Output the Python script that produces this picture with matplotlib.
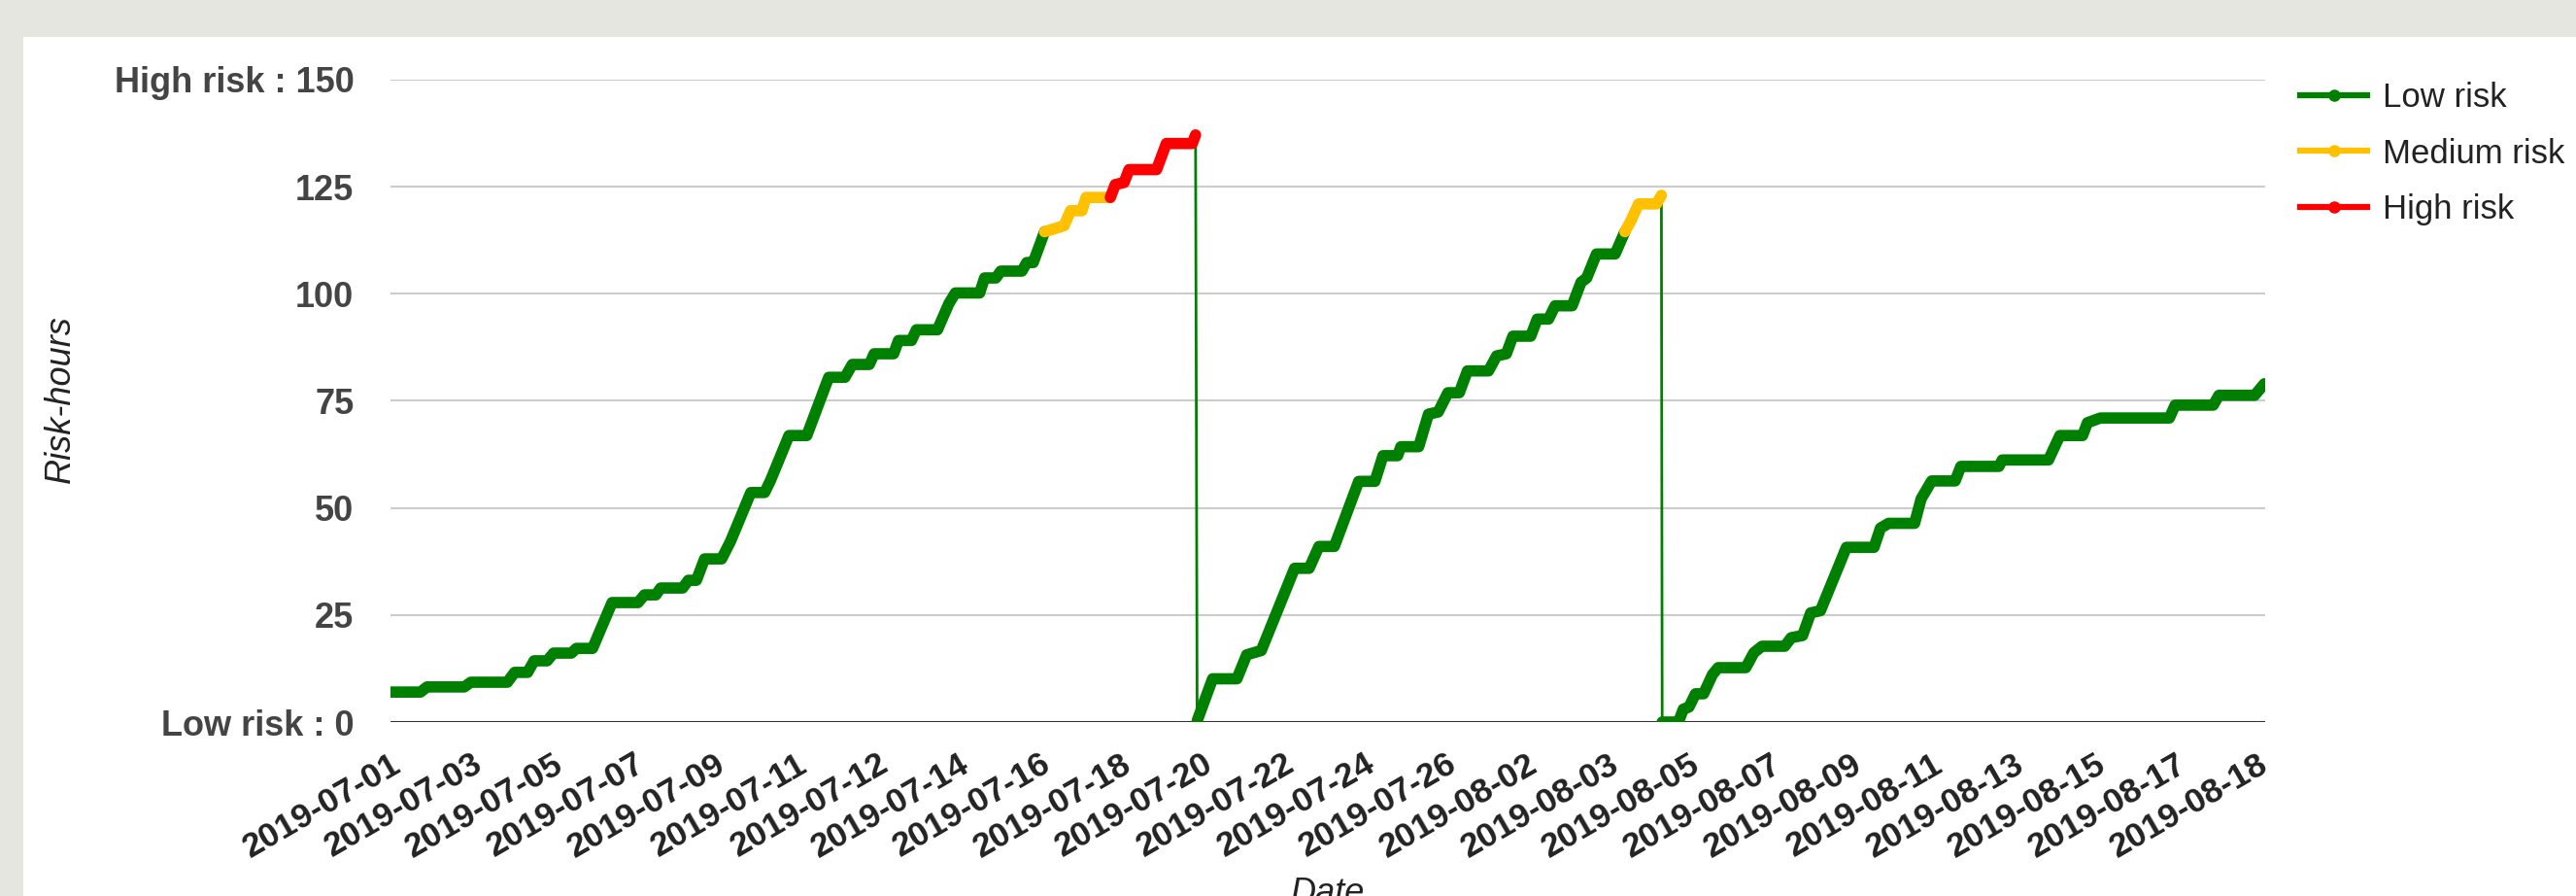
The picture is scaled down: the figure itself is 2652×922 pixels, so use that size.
import numpy as np
import matplotlib
matplotlib.use("Agg")
import matplotlib.pyplot as plt
from matplotlib.lines import Line2D
from matplotlib.patches import Rectangle

# position along the date axis (in label steps) and accumulated risk-hours
t = [0.00, 0.37, 0.45, 0.91, 0.99, 1.44, 1.53, 1.69, 1.77, 1.93, 2.01, 2.23, 2.29, 2.49,
     2.73, 3.05, 3.13, 3.27, 3.33, 3.60, 3.67, 3.77, 3.87, 4.08, 4.19, 4.44, 4.61, 4.68,
     4.91, 5.13, 5.40, 5.60, 5.69, 5.90, 5.96, 6.20, 6.26, 6.42, 6.48, 6.74, 6.88, 6.96,
     7.26, 7.32, 7.46, 7.52, 7.78, 7.84, 7.92, 8.06, 8.30, 8.38, 8.52, 8.57, 8.87, 8.93,
     9.04, 9.10, 9.44, 9.56, 9.88, 9.92,
     9.94, 10.13, 10.43, 10.55, 10.73, 11.14, 11.32, 11.44, 11.63, 11.93, 12.13, 12.23,
     12.41, 12.45, 12.67, 12.79, 12.91, 13.03, 13.17, 13.27, 13.53, 13.63, 13.75, 13.83,
     14.05, 14.13, 14.27, 14.35, 14.56, 14.67, 14.74, 14.86, 15.09, 15.21, 15.28, 15.38,
     15.60, 15.66,
     15.67, 15.87, 15.93, 16.00, 16.08, 16.18, 16.29, 16.36, 16.70, 16.80, 16.90, 17.18,
     17.26, 17.40, 17.50, 17.62, 17.94, 18.28, 18.36, 18.46, 18.78, 18.86, 18.99, 19.28,
     19.35, 19.82, 19.86, 20.43, 20.57, 20.85, 20.91, 21.07, 21.92, 21.99, 22.46, 22.53,
     22.97, 23.09]
risk_hours = [7.0, 7.0, 8.2, 8.2, 9.3, 9.3, 11.6, 11.6, 14.3, 14.3, 16.1, 16.1, 17.2, 17.2,
              27.9, 27.9, 29.7, 29.7, 31.3, 31.3, 33.1, 33.1, 38.1, 38.1, 42.2, 53.6, 53.6, 56.3,
              66.9, 66.9, 80.5, 80.5, 83.5, 83.5, 86.0, 86.0, 89.1, 89.1, 91.6, 91.6, 97.7, 100.2,
              100.2, 103.7, 103.7, 105.3, 105.3, 107.3, 107.3, 114.5, 115.9, 119.4, 119.4, 122.5, 122.5, 125.5,
              126.0, 129.0, 129.0, 135.1, 135.1, 137.1,
              0.3, 10.1, 10.1, 15.7, 16.7, 35.9, 35.9, 41.0, 41.0, 56.2, 56.2, 62.2,
              62.2, 64.3, 64.3, 71.9, 72.4, 76.9, 76.9, 82.0, 82.0, 85.5, 86.0, 90.1,
              90.1, 94.1, 94.1, 97.2, 97.2, 102.7, 103.7, 109.3, 109.3, 114.5, 116.9, 121.0,
              121.0, 123.0,
              0.0, 0.0, 3.0, 3.5, 6.6, 6.6, 11.1, 12.7, 12.7, 16.2, 17.7, 17.7,
              19.7, 20.2, 25.5, 26.0, 40.8, 40.8, 45.3, 46.4, 46.4, 52.1, 56.3, 56.3,
              59.7, 59.7, 61.2, 61.2, 66.9, 66.9, 69.9, 71.0, 71.0, 74.0, 74.0, 76.3,
              76.3, 79.0]

date_labels = ["2019-07-01", "2019-07-03", "2019-07-05", "2019-07-07", "2019-07-09",
               "2019-07-11", "2019-07-12", "2019-07-14", "2019-07-16", "2019-07-18",
               "2019-07-20", "2019-07-22", "2019-07-24", "2019-07-26", "2019-08-02",
               "2019-08-03", "2019-08-05", "2019-08-07", "2019-08-09", "2019-08-11",
               "2019-08-13", "2019-08-15", "2019-08-17", "2019-08-18"]
y_ticks = [0, 25, 50, 75, 100, 125, 150]
y_tick_labels = ["Low risk : 0", "25", "50", "75", "100", "125", "High risk : 150"]

series_names = ["Low risk", "Medium risk", "High risk"]
series_colors = ["#008000", "#ffc000", "#ff0000"]
MEDIUM_FROM, HIGH_FROM = 115, 124

plt.rcParams["font.family"] = ["Liberation Sans", "DejaVu Sans"]

W, H = 2652, 922
fig = plt.figure(figsize=(W / 100, H / 100), dpi=100, facecolor="#e5e6df")
fig.patches.append(Rectangle((24 / W, 0), 1, 1 - 38 / H, transform=fig.transFigure,
                             facecolor="white", edgecolor="none", zorder=-10))

ax = fig.add_axes([402 / W, 1 - 743 / H, (2332 - 402) / W, (743 - 82) / H])
ax.set_facecolor("none")

# split the trace into runs by risk level; resets are drawn as thin lines
runs = []
for i in range(len(t) - 1):
    a, b = risk_hours[i], risk_hours[i + 1]
    if b < a - 50:
        ax.plot([t[i], t[i + 1]], [a, b], color=series_colors[0], lw=2.0, zorder=2)
        runs.append(None)
        continue
    hi = max(a, b)
    level = 2 if hi > HIGH_FROM else (1 if hi > MEDIUM_FROM else 0)
    if runs and runs[-1] is not None and runs[-1][0] == level:
        runs[-1][1].append(i + 1)
    else:
        runs.append([level, [i, i + 1]])

for run in runs:
    if run is None:
        continue
    level, idx = run
    ax.plot([t[k] for k in idx], [risk_hours[k] for k in idx], color=series_colors[level],
            lw=8.4, solid_capstyle="round", solid_joinstyle="round", zorder=3 + level)

ax.set_xlim(0, 23.1)
ax.set_ylim(0, 150)
ax.set_yticks(y_ticks)
ax.set_yticklabels(y_tick_labels, fontsize=26, fontweight="bold", color="#444444")
ax.set_xticks(range(len(date_labels)))
ax.set_xticklabels(date_labels, fontsize=25.5, fontweight="bold", color="#222222",
                   rotation=30, ha="right", rotation_mode="anchor")
ax.tick_params(axis="y", length=0, pad=27)
ax.tick_params(axis="x", length=0, pad=19)
for s in ax.spines.values():
    s.set_visible(False)
ax.yaxis.grid(True, color="#cccccc", lw=1.5)
ax.set_axisbelow(True)
ax.axhline(0, color="#333333", lw=2.2, zorder=1.5)

fig.text(62 / W, 1 - 411 / H, "Risk-hours", rotation=90, style="italic", fontsize=26,
         color="#222222", ha="center", va="center")
fig.text(1367 / W, 1 - 902 / H, "Date", style="italic", fontsize=26, color="#222222",
         ha="center", va="top")

handles = [Line2D([0, 1, 2], [0, 0, 0], color=c, lw=4.5, marker="o", markersize=8,
                  markevery=[1]) for c in series_colors]
leg = fig.legend(handles, series_names, loc="upper left", bbox_to_anchor=(2368 / W, 1 - 84 / H),
                 frameon=False, fontsize=25, handlelength=2.0, handletextpad=0.45,
                 labelspacing=0.71, borderpad=0, borderaxespad=0)
for txt in leg.get_texts():
    txt.set_color("#222222")

fig.savefig("out.png", dpi=100, facecolor=fig.get_facecolor())
